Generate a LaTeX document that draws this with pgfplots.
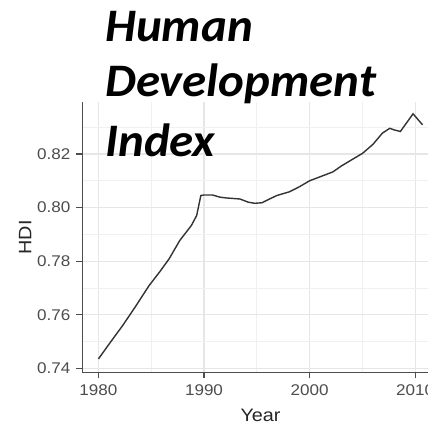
\documentclass[border=0pt]{standalone}
\usepackage{pgfplots}
\pgfplotsset{compat=1.18}
\usepackage{fontspec}
\setmainfont{Liberation Sans}
\newfontfamily\tickfont{Liberation Sans}[FakeStretch=1.1]
\newfontfamily\titlefont{Carlito}[FakeStretch=1.05]
\definecolor{gmaj}{HTML}{E6E6E6}
\definecolor{gmin}{HTML}{F0F0F0}
\definecolor{tickc}{HTML}{4D4D4D}
\definecolor{linec}{HTML}{333333}
\begin{document}
\begin{tikzpicture}
\useasboundingbox (0pt,0pt) rectangle (428pt,-425pt);
\clip (0pt,0pt) rectangle (428pt,-425pt);
\fill[white] (0pt,0pt) rectangle (428pt,-425pt);
\begin{axis}[
  at={(82.3pt,-372.3pt)}, anchor=south west,
  scale only axis, width=356.5pt, height=270pt,
  xmin=1978.47, xmax=2012.24, ymin=0.7385, ymax=0.8393,
  axis lines=left,
  axis line style={-, color=tickc, line width=1.1pt},
  xtick={1980,1990,2000,2010},
  ytick={0.74,0.76,0.78,0.80,0.82},
  minor xtick={1985,1995,2005},
  minor ytick={0.75,0.77,0.79,0.81,0.83},
  grid=both,
  major grid style={gmaj, line width=1.2pt},
  minor grid style={gmin, line width=0.8pt},
  tick align=outside,
  major tick length=6pt,
  minor tick length=0pt,
  tick style={tickc, line width=1.1pt},
  /pgf/number format/assume math mode=true,
  xticklabel style={font=\tickfont\fontsize{15.5}{17}\selectfont, color=tickc, /pgf/number format/1000 sep={}, yshift=-2.5pt},
  yticklabel style={font=\tickfont\fontsize{15.5}{17}\selectfont, color=tickc, /pgf/number format/fixed, /pgf/number format/precision=2, /pgf/number format/fixed zerofill, xshift=-2.5pt},
  xlabel={Year}, ylabel={HDI},
  xlabel style={font=\tickfont\fontsize{18}{20}\selectfont, color=black!85, at={(axis description cs:0.5,-0.184)}, anchor=base},
  ylabel style={font=\tickfont\fontsize{18}{20}\selectfont, color=black!85, at={(axis description cs:-0.1425,0.5)}, anchor=base},
  clip=false,
]
\addplot[linec, line width=1.4pt] coordinates {
(1980.0,0.7435) (1981.0,0.7490) (1982.3,0.7560) (1983.5,0.7630) (1984.8,0.7709)
(1985.8,0.7760) (1986.7,0.7809) (1987.7,0.7877) (1988.8,0.7933) (1989.3,0.7970)
(1989.7,0.8045) (1990.0,0.8047) (1990.8,0.8047) (1991.5,0.8039) (1992.1,0.8036)
(1993.4,0.8032) (1994.2,0.8020) (1994.8,0.8016) (1995.5,0.8018) (1996.2,0.8032)
(1996.9,0.8045) (1998.1,0.8059) (1999.0,0.8077) (2000.0,0.8100) (2001.0,0.8115)
(2002.2,0.8133) (2003.0,0.8155) (2003.8,0.8174) (2005.0,0.8202) (2006.0,0.8236)
(2006.9,0.8278) (2007.6,0.8296) (2008.0,0.8290) (2008.6,0.8284) (2009.8,0.8350)
(2010.7,0.8309)
};
\end{axis}
\node[anchor=base west, inner sep=0pt, font=\titlefont\bfseries\itshape\fontsize{46.6}{50}\selectfont] at (105pt,-42pt) {Human};
\node[anchor=base west, inner sep=0pt, font=\titlefont\bfseries\itshape\fontsize{46.6}{50}\selectfont] at (105pt,-97pt) {Development};
\node[anchor=base west, inner sep=0pt, font=\titlefont\bfseries\itshape\fontsize{46.6}{50}\selectfont] at (105pt,-157pt) {Index};
\end{tikzpicture}
\end{document}
